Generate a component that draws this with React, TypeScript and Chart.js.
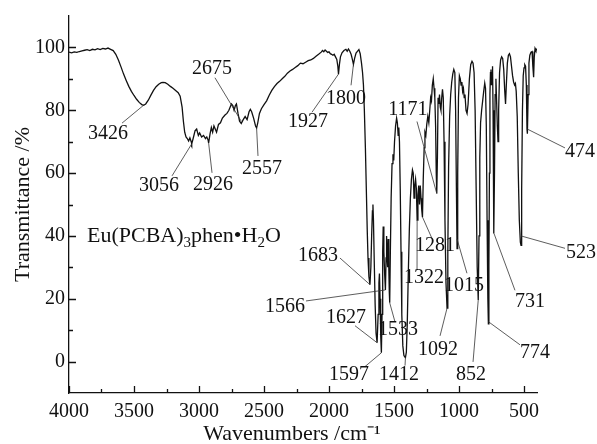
import { useEffect, useRef } from "react";
import { Chart, registerables } from "chart.js";

Chart.register(...registerables);

const WAVENUMBERS = [
  4000, 3980, 3960, 3940, 3920, 3900, 3880, 3860, 3840, 3820, 3800, 3780, 3760, 3740, 3720, 3700, 3680, 3660, 3640, 3620,
  3600, 3580, 3560, 3540, 3520, 3500, 3480, 3460, 3440, 3426, 3410, 3390, 3370, 3350, 3330, 3310, 3290, 3277, 3260, 3240,
  3220, 3200, 3180, 3160, 3145, 3130, 3120, 3110, 3100, 3090, 3080, 3070, 3060, 3056, 3045, 3030, 3018, 3005, 2995, 2980,
  2965, 2950, 2940, 2930, 2926, 2915, 2905, 2895, 2885, 2875, 2865, 2850, 2835, 2820, 2800, 2785, 2770, 2760, 2750, 2740,
  2730, 2720, 2712, 2700, 2688, 2675, 2660, 2645, 2630, 2615, 2605, 2595, 2580, 2565, 2557, 2548, 2535, 2520, 2500, 2480,
  2460, 2440, 2420, 2400, 2380, 2360, 2340, 2320, 2300, 2280, 2260, 2240, 2220, 2200, 2180, 2160, 2140, 2120, 2100, 2080,
  2060, 2050, 2040, 2030, 2020, 2010, 2000, 1990, 1980, 1970, 1960, 1950, 1940, 1932, 1927, 1920, 1912, 1900, 1885, 1870,
  1860, 1850, 1840, 1830, 1822, 1812, 1803, 1792, 1780, 1770, 1760, 1750, 1742, 1735, 1728, 1720, 1713, 1706, 1700, 1693,
  1685, 1678, 1672, 1666, 1662, 1658, 1652, 1645, 1638, 1630, 1622, 1616, 1612, 1607, 1602, 1597, 1592, 1587, 1583, 1578,
  1572, 1566, 1561, 1557, 1553, 1549, 1545, 1540, 1536, 1533, 1528, 1522, 1515, 1508, 1502, 1496, 1488, 1480, 1474, 1468,
  1463, 1458, 1452, 1446, 1440, 1432, 1424, 1418, 1412, 1405, 1398, 1390, 1382, 1374, 1366, 1358, 1352, 1346, 1340, 1334,
  1328, 1322, 1316, 1310, 1304, 1298, 1292, 1286, 1281, 1275, 1268, 1262, 1255, 1248, 1240, 1232, 1225, 1218, 1212, 1205,
  1198, 1192, 1186, 1180, 1175, 1171, 1166, 1161, 1155, 1150, 1144, 1139, 1133, 1127, 1121, 1115, 1108, 1100, 1092, 1086,
  1080, 1072, 1064, 1056, 1048, 1040, 1032, 1026, 1020, 1015, 1010, 1004, 997, 990, 984, 978, 972, 966, 960, 954,
  946, 938, 930, 920, 910, 900, 892, 884, 876, 868, 860, 852, 846, 840, 834, 826, 818, 810, 802, 796,
  790, 784, 778, 774, 770, 766, 762, 758, 754, 750, 746, 742, 738, 734, 731, 727, 722, 716, 710, 705,
  700, 695, 688, 680, 672, 664, 656, 648, 642, 636, 628, 620, 612, 604, 596, 588, 580, 572, 566, 560,
  552, 544, 536, 528, 523, 518, 512, 506, 500, 494, 488, 482, 477, 474, 468, 462, 455, 446, 438, 432,
  426, 421, 415, 408, 400,
];

const TRANSMITTANCE = [
  98.5, 98.3, 98.6, 98.4, 98.7, 98.9, 99.1, 99.3, 99.0, 99.4, 99.2, 99.6, 99.3, 99.7, 99.5, 99.8, 99.4, 99.0, 97.8, 96.0,
  93.8, 91.5, 89.5, 87.6, 86.0, 84.7, 83.5, 82.5, 81.8, 81.6, 82.0, 83.2, 84.8, 86.3, 87.5, 88.3, 88.8, 88.9, 88.8, 88.3,
  87.6, 87.0, 86.3, 85.6, 84.5, 81.0, 76.5, 73.0, 71.5, 71.0, 70.2, 71.2, 70.0, 69.3, 71.0, 73.5, 74.0, 72.0, 72.8, 71.5,
  72.0, 71.0, 71.5, 70.5, 69.6, 72.5, 74.5, 73.0, 75.0, 74.0, 73.0, 75.5, 76.0, 77.5, 78.5, 79.0, 80.0, 81.0, 82.0, 81.5,
  80.0, 81.5, 82.0, 79.0, 76.5, 75.8, 77.0, 78.0, 77.0, 79.5, 80.3, 79.5, 77.5, 75.0, 74.4, 76.0, 79.0, 80.5, 81.8, 83.0,
  84.8, 86.3, 87.5, 88.5, 89.2, 90.0, 90.8, 91.8, 92.5, 93.0, 93.6, 94.2, 95.0, 94.8, 95.3, 95.8, 96.0, 96.5, 97.2, 97.8,
  98.5, 99.0, 98.6, 99.2, 98.8, 98.4, 98.6, 98.0, 97.8, 97.5, 97.8, 97.0, 96.2, 94.0, 91.5, 94.5, 97.0, 98.3, 99.0, 99.4,
  98.8, 99.5, 98.8, 97.8, 96.5, 94.6, 96.5, 98.2, 98.8, 99.3, 98.0, 95.0, 92.0, 88.0, 80.0, 68.0, 55.0, 42.0, 33.0, 27.0,
  24.5, 30.0, 40.0, 48.0, 50.0, 45.0, 32.0, 18.0, 9.0, 6.0, 15.0, 25.0, 28.0, 20.0, 8.0, 2.8, 15.0, 35.0, 43.0, 35.0,
  28.0, 22.8, 33.0, 40.0, 33.0, 30.0, 39.0, 30.0, 22.0, 18.7, 35.0, 52.0, 63.0, 66.0, 64.0, 70.0, 75.0, 77.5, 76.0, 72.0,
  74.5, 70.0, 55.0, 35.0, 15.0, 5.0, 2.0, 1.5, 1.3, 3.0, 12.0, 28.0, 42.0, 52.0, 58.0, 61.0, 60.0, 52.0, 56.0, 58.0,
  55.0, 45.0, 53.0, 56.0, 50.0, 56.0, 52.0, 48.0, 46.0, 58.0, 68.0, 73.0, 72.0, 75.5, 78.0, 76.0, 80.0, 84.0, 83.0, 88.0,
  90.0, 87.0, 84.0, 75.0, 60.0, 53.5, 65.0, 84.0, 82.0, 85.0, 81.0, 80.0, 84.0, 86.7, 84.0, 70.0, 45.0, 25.0, 17.0, 35.0,
  62.0, 78.0, 85.0, 89.0, 91.5, 93.0, 92.0, 80.0, 55.0, 36.0, 60.0, 84.0, 91.0, 90.0, 88.0, 89.0, 86.0, 87.0, 84.0, 85.0,
  80.0, 79.0, 82.0, 90.0, 94.5, 95.6, 95.0, 92.0, 80.0, 55.0, 30.0, 19.6, 40.0, 65.0, 76.0, 80.0, 83.0, 86.0, 88.6, 87.0,
  75.0, 45.0, 20.0, 12.0, 30.0, 60.0, 85.0, 92.0, 93.0, 88.0, 92.0, 94.0, 80.0, 55.0, 40.8, 60.0, 85.0, 90.0, 82.0, 75.0,
  70.0, 80.0, 92.0, 96.0, 97.0, 96.5, 93.0, 86.0, 82.0, 88.0, 95.0, 97.5, 98.0, 97.0, 94.0, 91.0, 89.0, 88.0, 88.5, 86.0,
  78.0, 60.0, 45.0, 38.0, 37.0, 55.0, 80.0, 91.0, 93.5, 94.5, 94.0, 88.0, 74.0, 72.5, 85.0, 95.0, 97.5, 98.5, 98.7, 94.0,
  90.5, 97.0, 99.7, 99.0, 99.5,
];

const X_TICKS = [4000, 3750, 3500, 3250, 3000, 2750, 2500, 2250, 2000, 1750, 1500, 1250, 1000, 750, 500];
const X_LABELLED = [4000, 3500, 3000, 2500, 2000, 1500, 1000, 500];
const Y_TICKS = [0, 10, 20, 30, 40, 50, 60, 70, 80, 90, 100];
const Y_LABELLED = [0, 20, 40, 60, 80, 100];

const PEAK_TEXT = ["3426", "3056", "2926", "2675", "2557", "1927", "1800", "1683", "1566", "1627", "1533", "1597",
  "1412", "1322", "1281", "1171", "1092", "1015", "852", "774", "731", "523", "474"];
const PEAK_WN = [3426, 3056, 2926, 2675, 2557, 1927, 1812, 1685, 1566, 1630, 1533, 1597,
  1412, 1322, 1281, 1171, 1092, 1015, 852, 774, 731, 523, 474];
const PEAK_T = [81.6, 69.3, 69.6, 76.5, 74.4, 91.5, 94.6, 24.5, 22.8, 6.0, 18.7, 2.8,
  1.3, 45, 46, 53.5, 17, 39, 19.6, 12.7, 40.8, 40, 74];

// label placement: [label dx, label dy, leader start dx, leader start dy] relative to the marked point (px)
const LABEL_LAYOUT = [
  [-35.6, 28.9, -21.6, 17.9],
  [-32.7, 42, -19.7, 32],
  [4.4, 41.9, 3.4, 29.9],
  [-29.3, -52.5, -26.3, -43.5],
  [5.4, 41.1, 1.4, 28.1],
  [-30.5, 48.1, -26.5, 38.1],
  [-7.4, 33.9, -2.4, 20.9],
  [-52, -28.6, -30, -26.6],
  [-100.4, 17, -79.4, 11],
  [-31.1, -25, -22.1, -17],
  [8.3, 27.1, 5.3, 19.1],
  [-32.4, 21.8, -16.4, 13.8],
  [-6.4, 17.1, -0.4, 8.1],
  [6.9, 57.2, -0.1, 49.2],
  [12.5, 28.4, 9.5, 21.4],
  [-28.8, -84, -19.8, -72],
  [-9, 41.7, -7, 27.7],
  [6.9, 46.2, 9.9, 34.2],
  [-7.2, 74.9, -5.2, 61.9],
  [46.6, 31.1, 31.6, 23.1],
  [36, 67.9, 21, 56.9],
  [60, 16.4, 44, 12.4],
  [52.6, 22.8, 37.6, 18.8],
];

const SERIF = '"Liberation Serif", "Times New Roman", serif';
const INK = "#111111";

const overlayPlugin = {
  id: "irOverlay",
  afterDraw(chart: any) {
    const { ctx, chartArea } = chart;
    const xs = chart.scales.x;
    const ys = chart.scales.y;
    ctx.save();
    // inward ticks
    ctx.strokeStyle = INK;
    ctx.lineWidth = 1.3;
    ctx.beginPath();
    X_TICKS.forEach((v) => {
      const px = Math.round(xs.getPixelForValue(v)) + 0.5;
      const len = X_LABELLED.includes(v) ? 7 : 4;
      ctx.moveTo(px, chartArea.bottom);
      ctx.lineTo(px, chartArea.bottom - len);
    });
    Y_TICKS.forEach((v) => {
      const py = Math.round(ys.getPixelForValue(v)) + 0.5;
      const len = Y_LABELLED.includes(v) ? 7 : 4;
      ctx.moveTo(chartArea.left, py);
      ctx.lineTo(chartArea.left + len, py);
    });
    ctx.stroke();

    // peak annotations
    ctx.lineWidth = 0.8;
    ctx.strokeStyle = "#333333";
    ctx.fillStyle = INK;
    ctx.font = `20px ${SERIF}`;
    ctx.textAlign = "center";
    ctx.textBaseline = "middle";
    PEAK_TEXT.forEach((t, i) => {
      const tx = xs.getPixelForValue(PEAK_WN[i]);
      const ty = ys.getPixelForValue(PEAK_T[i]);
      const [lx, ly, sx, sy] = LABEL_LAYOUT[i];
      ctx.beginPath();
      ctx.moveTo(tx + sx, ty + sy);
      ctx.lineTo(tx, ty);
      ctx.stroke();
      ctx.fillText(t, tx + lx, ty + ly);
    });

    // compound name with subscripts
    ctx.textAlign = "left";
    ctx.textBaseline = "alphabetic";
    let x = chartArea.left + 18;
    const base = chartArea.top + 226;
    const parts: [string, boolean][] = [
      ["Eu(PCBA)", false], ["3", true], ["phen", false], ["\u2022", false], ["H", false], ["2", true], ["O", false],
    ];
    parts.forEach(([s, sub]) => {
      ctx.font = sub ? `15px ${SERIF}` : `22px ${SERIF}`;
      ctx.fillText(s, x, sub ? base + 5 : base);
      x += ctx.measureText(s).width;
    });
    ctx.restore();
  },
};

export default function App() {
  const canvasRef = useRef<HTMLCanvasElement | null>(null);

  useEffect(() => {
    document.body.style.margin = "0";
    const canvas = canvasRef.current;
    if (!canvas) return;
    const chart = new Chart(canvas, {
      type: "line",
      data: {
        datasets: [
          {
            data: WAVENUMBERS.map((w, i) => ({ x: w, y: TRANSMITTANCE[i] })),
            borderColor: INK,
            borderWidth: 1.3,
            pointRadius: 0,
            fill: false,
            tension: 0,
          },
        ],
      },
      options: {
        animation: false,
        responsive: false,
        devicePixelRatio: 1,
        layout: { padding: { top: 13, right: 60, left: 0, bottom: 0 } },
        plugins: { legend: { display: false }, tooltip: { enabled: false } },
        scales: {
          x: {
            type: "linear",
            reverse: true,
            min: 400,
            max: 4000,
            afterBuildTicks: (s: any) => {
              s.ticks = X_TICKS.map((v) => ({ value: v }));
            },
            afterFit: (s: any) => {
              s.height = 51;
            },
            grid: { display: false, drawTicks: false },
            border: { display: true, color: INK, width: 1.3 },
            ticks: {
              autoSkip: false,
              maxRotation: 0,
              padding: 7,
              color: INK,
              font: { family: SERIF, size: 20 },
              callback: (v: any) => (X_LABELLED.includes(Number(v)) ? String(v) : ""),
            },
            title: {
              display: true,
              text: "Wavenumbers /cm\u207B\u00B9\u2003",
              color: INK,
              font: { family: SERIF, size: 22, lineHeight: 0.9 },
              padding: { top: 0, bottom: 0 },
            },
          },
          y: {
            type: "linear",
            min: -10,
            max: 110,
            afterBuildTicks: (s: any) => {
              s.ticks = Y_TICKS.map((v) => ({ value: v }));
            },
            afterFit: (s: any) => {
              s.width = 69;
            },
            grid: { display: false, drawTicks: false },
            border: { display: true, color: INK, width: 1.3 },
            ticks: {
              autoSkip: false,
              padding: 4,
              color: INK,
              font: { family: SERIF, size: 20 },
              callback: (v: any) => (Y_LABELLED.includes(Number(v)) ? String(v) : ""),
            },
            title: {
              display: true,
              text: "Transmittance /%",
              color: INK,
              font: { family: SERIF, size: 22 },
              padding: { top: 10, bottom: 0 },
            },
          },
        },
      },
      plugins: [overlayPlugin],
    });
    return () => chart.destroy();
  }, []);

  return (
    <div style={{ position: "fixed", left: 0, top: 0, width: 597, height: 444, background: "#ffffff" }}>
      <canvas ref={canvasRef} width={597} height={444} style={{ display: "block" }} />
    </div>
  );
}
